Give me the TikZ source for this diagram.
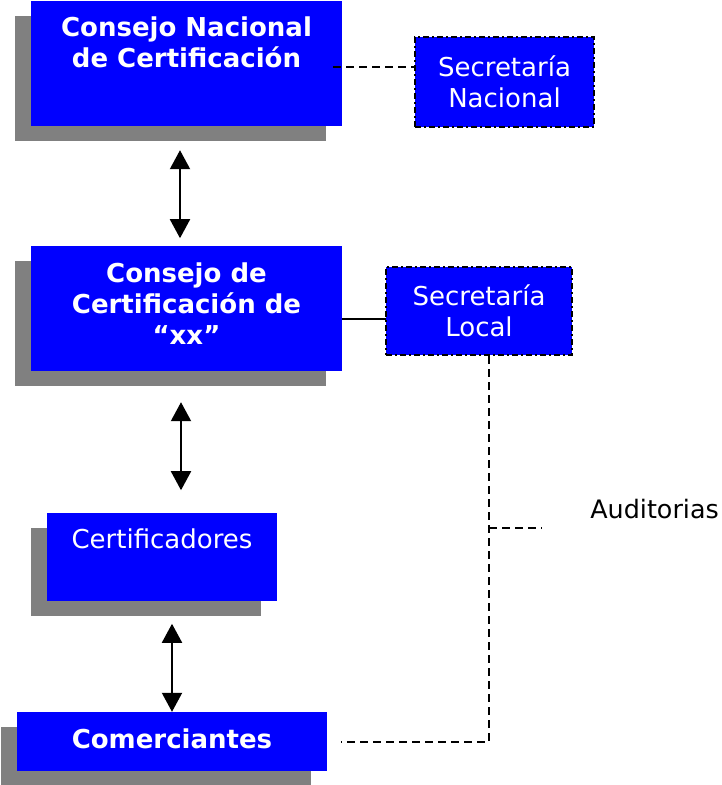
\documentclass[tikz,border=0pt]{standalone}
\usepackage{fontspec}
\setmainfont{DejaVu Sans}
\usepackage{tikz}
\usetikzlibrary{arrows.meta}
\usetikzlibrary{shadows}
\usepackage{xcolor}
\definecolor{cajaazul}{RGB}{0,0,255}
\definecolor{sombra}{RGB}{128,128,128}
\newcommand{\tam}{\fontsize{26}{31}\selectfont}

\tikzset{
  caja/.style={fill=cajaazul, inner sep=0pt, text=white, align=center, font=\tam\bfseries,
    drop shadow={shadow xshift=-16pt, shadow yshift=-15pt, fill=sombra, opacity=1}},
  secre/.style={fill=cajaazul, draw=black, line width=2pt,
    dash pattern=on 6pt off 3pt on 2pt off 3pt, inner sep=0pt, text=white, align=center, font=\tam},
  texto/.style={text=white, align=center, inner sep=0pt},
  dbl/.style={line width=2pt, {Triangle[width=20pt,length=19pt]}-{Triangle[width=20pt,length=19pt]}},
  dsh/.style={line width=2pt, dash pattern=on 8pt off 5pt}
}

\begin{document}
\begin{tikzpicture}[x=1pt,y=-1pt]
\useasboundingbox (0,0) rectangle (721,785);
% cajas
\node[caja, minimum width=311pt, minimum height=125pt] (cnc) at (186.5,63.5) {};
\node[texto, anchor=north, font=\tam\bfseries] (cnc-t) at (186.5,16.5) {Consejo Nacional\\de Certificación};
\node[secre, minimum width=179pt, minimum height=90pt] (sn) at (504.5,82) {Secretaría\\Nacional};

\node[caja, minimum width=311pt, minimum height=125pt] (cc) at (186.5,308.5) {};
\node[texto, anchor=north, font=\tam\bfseries] (cc-t) at (186.5,262.5) {Consejo de\\Certificación de\\“xx”};
\node[secre, minimum width=186pt, minimum height=88pt] (sl) at (479,311) {Secretaría\\Local};

\node[caja, minimum width=230pt, minimum height=88pt] (cert) at (162,557) {};
\node[texto, anchor=north, font=\tam] (cert-t) at (162,528.5) {Certificadores};

\node[caja, minimum width=310pt, minimum height=59pt, text depth=6pt] (com) at (172,741.5) {Comerciantes};

% flechas
\draw[dbl] ([xshift=-6.5pt,yshift=-24pt]cnc.south) -- ++(0,88);
\draw[dbl] ([xshift=-5.5pt,yshift=-31pt]cc.south) -- ++(0,88);
\draw[dbl] (com.north) -- ++(0,-88);

% lineas
\draw[dsh] ([xshift=-9pt,yshift=-3.5pt]cnc.east) -- ++(82,0);
\draw[line width=2pt] ([yshift=-10.5pt]cc.east) -- ++(44,0);
\draw[dsh] ([xshift=10pt]sl.south) |- ([xshift=14pt]com.east);
\coordinate (br) at ([xshift=10pt,yshift=-172pt]sl.south);
\draw[dsh] (br) -- ++(53,0);
\node[anchor=base east, inner sep=0pt, font=\fontsize{25.4}{31}\selectfont] (aud) at (719,518) {Auditorias};
\end{tikzpicture}
\end{document}
